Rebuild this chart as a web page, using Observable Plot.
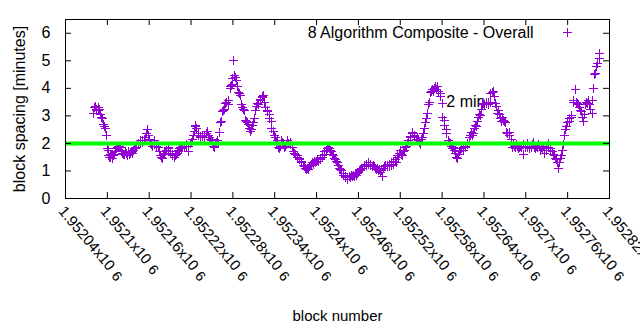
<!DOCTYPE html>
<html><head><meta charset="utf-8">
<script src="https://cdn.jsdelivr.net/npm/d3@7"></script>
<script src="https://cdn.jsdelivr.net/npm/@observablehq/plot@0.6"></script>
<style>
html,body{margin:0;padding:0;background:#fff;}
</style></head><body><div id="chart"></div>
<script>
const blocks = [
1952080,1952082,1952083,1952084,1952085,1952087,1952088,1952089,1952090,1952092,
1952093,1952094,1952096,1952097,1952099,1952100,1952101,1952102,1952103,1952104,
1952105,1952106,1952107,1952108,1952109,1952110,1952112,1952113,1952115,1952116,
1952118,1952119,1952120,1952122,1952123,1952125,1952126,1952127,1952129,1952130,
1952132,1952133,1952135,1952136,1952138,1952139,1952141,1952142,1952144,1952145,
1952147,1952148,1952150,1952151,1952153,1952155,1952156,1952158,1952159,1952161,
1952162,1952164,1952165,1952167,1952168,1952170,1952171,1952173,1952175,1952176,
1952178,1952179,1952181,1952182,1952184,1952185,1952187,1952188,1952190,1952191,
1952193,1952194,1952196,1952198,1952199,1952201,1952202,1952204,1952205,1952207,
1952208,1952210,1952211,1952213,1952214,1952216,1952217,1952219,1952220,1952222,
1952223,1952225,1952226,1952227,1952228,1952230,1952231,1952233,1952234,1952236,
1952237,1952239,1952240,1952242,1952243,1952245,1952246,1952248,1952249,1952251,
1952252,1952254,1952255,1952256,1952258,1952259,1952261,1952262,1952264,1952265,
1952267,1952268,1952270,1952271,1952273,1952274,1952276,1952277,1952278,1952279,
1952280,1952281,1952282,1952284,1952285,1952287,1952288,1952290,1952291,1952293,
1952294,1952295,1952297,1952298,1952300,1952301,1952302,1952304,1952305,1952307,
1952308,1952310,1952311,1952313,1952314,1952316,1952317,1952319,1952320,1952322,
1952323,1952324,1952326,1952327,1952329,1952330,1952332,1952333,1952335,1952336,
1952338,1952339,1952341,1952342,1952344,1952345,1952347,1952348,1952350,1952351,
1952353,1952354,1952356,1952357,1952359,1952360,1952362,1952363,1952365,1952367,
1952368,1952370,1952372,1952373,1952375,1952376,1952378,1952379,1952381,1952382,
1952384,1952385,1952386,1952387,1952388,1952390,1952391,1952393,1952394,1952396,
1952397,1952399,1952400,1952402,1952403,1952405,1952406,1952408,1952409,1952411,
1952412,1952414,1952415,1952417,1952418,1952420,1952421,1952423,1952424,1952426,
1952427,1952429,1952430,1952432,1952433,1952435,1952436,1952438,1952439,1952441,
1952442,1952444,1952445,1952447,1952448,1952450,1952451,1952453,1952454,1952456,
1952457,1952459,1952460,1952462,1952463,1952465,1952466,1952468,1952469,1952471,
1952472,1952474,1952475,1952477,1952478,1952480,1952481,1952483,1952484,1952486,
1952487,1952489,1952490,1952492,1952493,1952495,1952496,1952498,1952499,1952501,
1952502,1952504,1952505,1952507,1952508,1952510,1952511,1952513,1952514,1952516,
1952517,1952519,1952520,1952522,1952523,1952525,1952526,1952528,1952529,1952531,
1952532,1952534,1952535,1952537,1952538,1952540,1952541,1952543,1952544,1952546,
1952547,1952549,1952550,1952552,1952553,1952555,1952556,1952558,1952559,1952561,
1952562,1952563,1952565,1952566,1952568,1952569,1952571,1952572,1952574,1952575,
1952577,1952578,1952580,1952581,1952583,1952584,1952586,1952587,1952589,1952590,
1952592,1952593,1952595,1952596,1952598,1952599,1952601,1952602,1952604,1952605,
1952607,1952608,1952610,1952611,1952613,1952614,1952616,1952617,1952619,1952620,
1952622,1952623,1952625,1952626,1952628,1952629,1952631,1952632,1952634,1952635,
1952637,1952638,1952640,1952641,1952643,1952644,1952646,1952647,1952649,1952650,
1952652,1952653,1952655,1952656,1952658,1952659,1952661,1952662,1952664,1952665,
1952667,1952668,1952670,1952671,1952673,1952674,1952676,1952677,1952679,1952680,
1952681,1952682,1952684,1952685,1952687,1952688,1952690,1952691,1952693,1952694,
1952696,1952697,1952699,1952700,1952702,1952703,1952705,1952706,1952708,1952709,
1952711,1952712,1952714,1952715,1952717,1952718,1952720,1952721,1952723,1952724,
1952726,1952727,1952729,1952730,1952732,1952733,1952735,1952736,1952738,1952739,
1952741,1952742,1952744,1952745,1952747,1952748,1952750,1952751,1952753,1952754,
1952756,1952757,1952759,1952760,1952762,1952763,1952765,1952766,1952768,1952769,
1952771,1952772,1952774,1952775,1952777,1952778,1952780,1952781,1952783,1952784,
1952786,1952787,1952789,1952790,1952792,1952793,1952795,1952796,1952797,1952799,
1952800,1952802,1952803,1952805,1952806
];
const spacing = [
3.10,3.30,3.35,3.25,3.20,3.20,3.30,3.25,3.05,2.95,
2.90,2.70,2.60,2.55,2.30,1.80,1.75,1.55,1.50,1.60,
1.50,1.60,1.45,1.55,1.55,1.60,1.70,1.80,1.85,1.90,
1.90,1.85,1.70,1.65,1.60,1.60,1.70,1.65,1.55,1.70,
1.60,1.65,1.70,1.65,1.75,1.80,1.80,1.85,1.95,2.00,
2.05,2.10,2.05,2.10,2.10,2.20,2.35,2.50,2.30,2.15,
2.00,1.95,1.90,1.95,2.10,1.90,1.95,1.85,1.70,1.55,
1.50,1.45,1.60,1.65,1.70,1.75,1.80,1.85,1.70,1.65,
1.60,1.55,1.50,1.55,1.60,1.65,1.75,1.80,1.85,1.80,
1.85,1.90,1.90,1.95,1.90,1.70,1.90,2.00,2.05,2.15,
2.30,2.45,2.60,2.65,2.55,2.35,2.30,2.25,2.20,2.25,
2.30,2.30,2.20,2.35,2.45,2.30,2.20,2.15,2.10,2.05,
1.90,1.85,2.00,2.05,2.10,2.00,2.40,2.75,2.80,3.15,
3.20,3.25,3.45,3.50,3.40,3.55,4.00,4.05,4.10,4.15,
4.35,5.00,4.45,4.40,4.30,4.05,3.85,3.80,3.75,3.40,
3.30,3.25,3.20,2.85,2.80,2.75,2.70,2.55,2.45,2.50,
2.65,2.75,2.90,3.20,3.35,3.45,3.40,3.55,3.60,3.70,
3.65,3.75,3.50,3.30,3.20,3.15,3.05,2.90,2.80,2.55,
2.45,2.30,2.20,2.05,2.10,1.85,1.80,1.90,2.10,2.05,
2.00,1.85,1.90,1.95,2.10,2.00,2.05,1.95,1.85,1.70,
1.65,1.60,1.55,1.50,1.45,1.40,1.35,1.30,1.20,1.15,
1.10,1.05,1.05,1.10,1.05,1.15,1.20,1.25,1.30,1.25,
1.35,1.30,1.35,1.40,1.35,1.40,1.45,1.50,1.55,1.60,
1.70,1.75,1.80,1.85,1.80,1.75,1.70,1.60,1.55,1.45,
1.40,1.35,1.30,1.20,1.10,1.05,1.00,0.90,0.85,0.80,
0.75,0.70,0.75,0.80,0.75,0.85,0.80,0.85,0.80,0.90,
0.85,0.90,0.95,1.00,1.05,1.10,1.10,1.15,1.20,1.25,
1.20,1.25,1.30,1.20,1.25,1.15,1.20,1.15,1.10,1.05,
1.10,1.00,1.05,0.95,1.00,0.80,1.10,1.15,1.20,1.15,
1.20,1.15,1.25,1.20,1.30,1.25,1.35,1.40,1.30,1.55,
1.50,1.65,1.75,1.60,1.55,1.70,1.75,1.85,1.90,2.00,
2.10,2.20,2.25,2.35,2.40,2.30,2.25,2.15,2.20,2.10,
2.05,1.95,2.15,2.20,2.35,2.55,2.75,2.90,3.10,3.40,
3.50,3.85,3.90,3.95,3.90,4.00,4.05,3.95,4.05,3.90,
3.80,3.70,3.45,2.95,2.85,2.65,2.50,2.35,2.10,2.05,
2.00,1.90,1.80,1.85,1.75,1.65,1.50,1.45,1.60,1.70,
1.75,1.80,1.75,1.85,1.90,1.85,1.95,2.00,2.20,2.30,
2.40,2.30,2.35,2.55,2.65,2.60,2.80,2.95,3.05,3.00,
3.25,3.40,3.45,3.40,3.50,3.45,3.50,3.40,3.50,3.80,
3.85,3.90,3.70,3.45,3.35,3.10,3.20,3.05,2.90,2.80,
2.95,2.85,2.80,2.75,2.40,2.35,2.30,2.40,2.15,1.95,
1.85,1.95,1.90,1.85,1.95,1.90,1.80,1.85,1.90,1.85,
1.95,1.60,1.85,1.90,2.00,1.85,1.90,1.80,1.85,1.95,
2.05,1.85,1.80,1.90,1.85,1.95,1.90,1.75,1.85,1.80,
1.90,1.65,1.80,1.75,1.85,2.00,1.80,1.75,1.70,1.60,
1.55,1.45,1.40,1.30,1.10,1.30,1.45,1.55,1.75,1.95,
2.30,2.50,2.60,2.75,2.80,2.90,2.95,3.00,3.50,3.55,
3.95,3.50,3.45,3.40,3.30,3.20,3.15,2.95,2.80,3.05,
3.40,3.50,3.45,3.55,3.40,3.25,3.10,3.55,4.00,4.50,
4.55,4.80,4.90,5.10,5.25
];
const xTicks = [1952040,1952100,1952160,1952220,1952280,1952340,1952400,1952460,1952520,1952580,1952640,1952700,1952760,1952820];
const xTickLabels = ["1.95204","1.9521","1.95216","1.95222","1.95228","1.95234","1.9524","1.95246","1.95252","1.95258","1.95264","1.9527","1.95276","1.95282"];
const yTicks = [0,1,2,3,4,5,6];
const targetSpacing = [2];
const seriesLabel = ["8 Algorithm Composite - Overall"];
const targetNote = [{block: 1952586, minutes: 3.5, text: "2 min"}];

const data = blocks.map((b, i) => ({block: b, minutes: spacing[i]}));
const cross = {draw(ctx) { const r = 4.5; ctx.moveTo(-r, 0); ctx.lineTo(r, 0); ctx.moveTo(0, -r); ctx.lineTo(0, r); }};

const chart = Plot.plot({
  width: 640, height: 330,
  marginLeft: 65, marginRight: 31, marginTop: 19, marginBottom: 132,
  style: {fontFamily: "'Liberation Sans', Arial, sans-serif", fontSize: "16px", background: "#fff", color: "#000", overflow: "visible"},
  x: {domain: [1952040, 1952820]},
  y: {domain: [0, 6.5]},
  marks: [
    Plot.text(targetNote, {x: "block", y: "minutes", text: "text", textAnchor: "start", fontSize: 16, fill: "#000"}),
    Plot.dot(data, {x: "block", y: "minutes", symbol: cross, r: 4.5, stroke: "#9400d3", fill: "none", strokeWidth: 1, shapeRendering: "crispEdges"}),
    Plot.ruleY(targetSpacing, {stroke: "#00ff00", strokeWidth: 4}),
    Plot.tickX(xTicks, {x: d => d, insetTop: 173, stroke: "#000"}),
    Plot.tickX(xTicks, {x: d => d, insetBottom: 173, stroke: "#000"}),
    Plot.tickY(yTicks, {y: d => d, insetRight: 538, stroke: "#000"}),
    Plot.tickY(yTicks, {y: d => d, insetLeft: 538, stroke: "#000"}),
    Plot.frame({stroke: "#000"}),
    Plot.axisY({ticks: yTicks, tickSize: 0, tickPadding: 15, fontSize: 16, tickFormat: d => String(d),
      label: "block spacing [minutes]", labelAnchor: "center", labelArrow: "none", labelOffset: 52}),
    Plot.axisX({ticks: xTicks, tickSize: 0, tickPadding: 10, tickRotate: 50, textAnchor: "start", lineAnchor: "middle", fontSize: 15,
      tickFormat: d => xTickLabels[xTicks.indexOf(d)] + "x10",
      label: "block number", labelAnchor: "center", labelArrow: "none", labelOffset: 122, dx: -4}),
    Plot.text(seriesLabel, {x: null, y: null, text: d => d, frameAnchor: "top-right", dx: -76, dy: 13, textAnchor: "end", lineAnchor: "middle", fontSize: 16}),
    Plot.dot([0], {x: null, y: null, frameAnchor: "top-right", dx: -42, dy: 13, symbol: cross, stroke: "#9400d3", fill: "none", strokeWidth: 1, shapeRendering: "crispEdges"})
  ]
});
document.getElementById("chart").appendChild(chart);
d3.select(chart).selectAll('g[aria-label="x-axis tick label"] text').each(function() {
  d3.select(this).append("tspan").attr("dx", 5).attr("dy", 1).attr("font-size", 14).text("6");
});
</script></body></html>
